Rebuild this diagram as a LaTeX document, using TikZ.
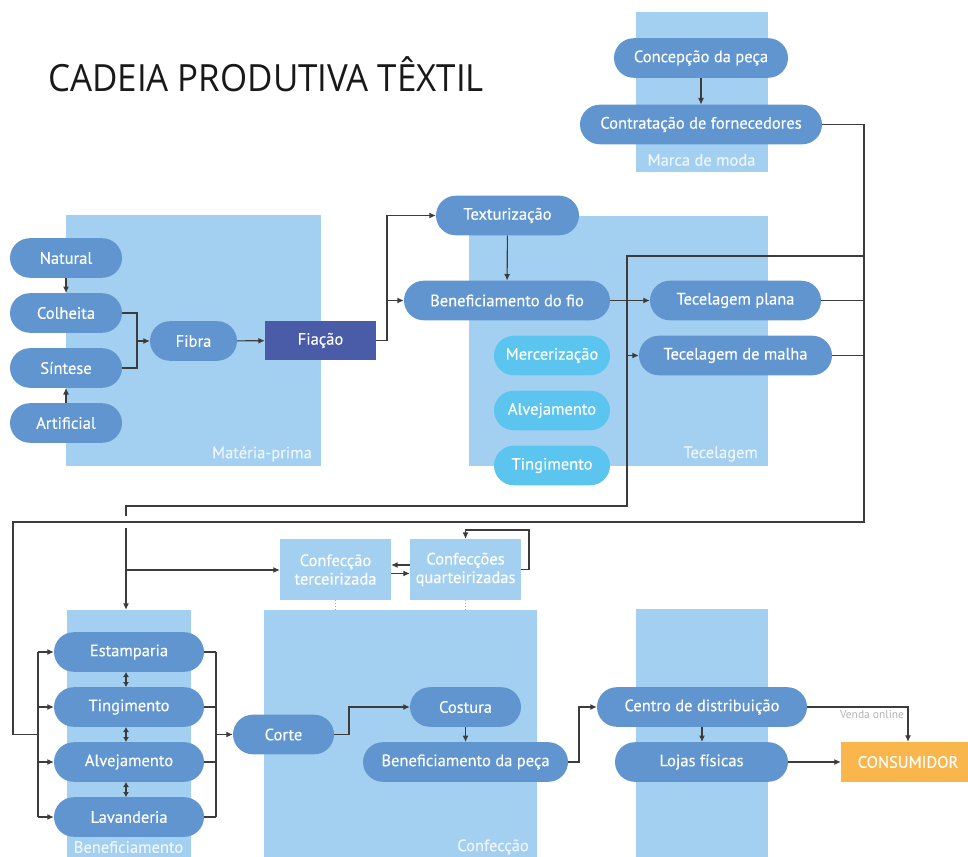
\documentclass[tikz,border=0pt]{standalone}
\usepackage{fontspec}
\setmainfont{PT Sans}
\newfontfamily\pillfont[FakeBold=0.3]{PT Sans}
\newfontfamily\titlefont[FakeStretch=0.93]{Open Sans}
\usetikzlibrary{arrows.meta,calc}
\definecolor{bgblue}{HTML}{A3D0F0}
\definecolor{pillblue}{HTML}{6195CF}
\definecolor{cyanpill}{HTML}{5BC5F0}
\definecolor{darkblue}{HTML}{4A5BA8}
\definecolor{orangec}{HTML}{F9B64D}
\definecolor{linec}{HTML}{3C3C3C}
\definecolor{labc}{HTML}{EEF6FD}
\tikzset{
  bgbox/.style={fill=bgblue, draw=none, inner sep=0pt},
  pill/.style={fill=pillblue, draw=none, rounded corners=19.8pt, text=white, minimum height=39.6pt, inner sep=0pt, font=\pillfont\fontsize{16.5}{18}\selectfont},
  cpill/.style={pill, fill=cyanpill},
  rectbox/.style={fill=darkblue, draw=none, text=white, minimum height=39pt, inner sep=0pt, font=\pillfont\fontsize{16.5}{18}\selectfont},
  subbox/.style={fill=bgblue, draw=none, text=white, minimum width=111pt, minimum height=61pt, inner sep=0pt, align=center, font=\pillfont\fontsize{16.5}{18.5}\selectfont},
  boxlabel/.style={text=labc, inner sep=0pt, font=\pillfont\fontsize{16.5}{18}\selectfont},
  ln/.style={draw=linec, line width=1.1pt},
  arr/.style={ln, -{Latex[length=6.5pt,width=6pt]}},
  dbl/.style={ln, {Latex[length=5pt,width=6pt]}-{Latex[length=5pt,width=6pt]}},
  dotl/.style={draw=gray!70, line width=1pt, dotted},
}
\begin{document}
\begin{tikzpicture}[x=1pt,y=-1pt]
\useasboundingbox (0,0) rectangle (968,856);
% background regions
\node[bgbox, minimum width=132pt, minimum height=160pt] (marcabox) at (702,92) {};
\node[bgbox, minimum width=255pt, minimum height=251pt] (matbox) at (193.5,340.5) {};
\node[bgbox, minimum width=299pt, minimum height=250pt] (tecbox) at (618.5,341) {};
\node[bgbox, minimum width=124pt, minimum height=260pt] (benefbox) at (129,740) {};
\node[bgbox, minimum width=273pt, minimum height=260pt] (confbox) at (400.5,740) {};
\node[bgbox, minimum width=132pt, minimum height=261pt] (distbox) at (702,739.5) {};
% region labels
\node[boxlabel] (lmarca) at (701.5,160) {Marca de moda};
\node[boxlabel, anchor=east] (lmat) at (312,454) {Matéria-prima};
\node[boxlabel, anchor=east] (ltec) at (758,454) {Tecelagem};
\node[boxlabel] (lben) at (128.5,847) {Beneficiamento};
\node[boxlabel, anchor=east] (lconf) at (529,847) {Confecção};
% title
\node[anchor=base west, inner sep=0pt, font=\titlefont\fontsize{37.5}{40}\selectfont, text=black!90] (title) at (48,92) {CADEIA PRODUTIVA TÊXTIL};
% Marca de moda
\node[pill, minimum width=174pt] (concep) at (701,58) {Concepção da peça};
\node[pill, minimum width=242pt] (contrat) at (701,124.5) {Contratação de fornecedores};
% Materia-prima
\node[pill, minimum width=112pt] (natural) at (66,258) {Natural};
\node[pill, minimum width=112pt] (colheita) at (66,313) {Colheita};
\node[pill, minimum width=112pt] (sintese) at (66,368) {Síntese};
\node[pill, minimum width=112pt] (artificial) at (66,423) {Artificial};
\node[pill, minimum width=87pt] (fibra) at (193.5,341) {Fibra};
\node[rectbox, minimum width=111pt] (fiacao) at (320.5,340.5) {Fiação};
% Tecelagem
\node[pill, minimum width=143pt] (textur) at (507.5,215.5) {Texturização};
\node[pill, minimum width=206pt] (benfio) at (507,300.5) {Beneficiamento do fio};
\node[cpill, minimum width=116pt] (mercer) at (552,355.5) {Mercerização};
\node[cpill, minimum width=116pt] (alvejA) at (552,410.5) {Alvejamento};
\node[cpill, minimum width=116pt] (tingiA) at (552,465.5) {Tingimento};
\node[pill, minimum width=171pt] (tecplana) at (735.5,300.5) {Tecelagem plana};
\node[pill, minimum width=193pt] (tecmalha) at (735.5,355.5) {Tecelagem de malha};
% Beneficiamento
\node[pill, minimum width=150pt] (estamp) at (129,652) {Estamparia};
\node[pill, minimum width=150pt] (tingiB) at (129,707) {Tingimento};
\node[pill, minimum width=150pt] (alvejB) at (129,762) {Alvejamento};
\node[pill, minimum width=150pt] (lavand) at (129,817) {Lavanderia};
% Confeccao
\node[subbox] (terc) at (335.5,569.5) {Confecção\\terceirizada};
\node[subbox] (quart) at (465.5,569.5) {Confecções\\quarteirizadas};
\node[pill, minimum width=101pt] (corte) at (283.5,734.5) {Corte};
\node[pill, minimum width=111pt] (costura) at (465.5,707) {Costura};
\node[pill, minimum width=205pt] (benpeca) at (465.5,762) {Beneficiamento da peça};
% Distribuicao
\node[pill, minimum width=210pt] (centro) at (702,707) {Centro de distribuição};
\node[pill, minimum width=173pt] (lojas) at (701.5,762) {Lojas físicas};
\node[fill=orangec, text=white, minimum width=134pt, minimum height=40pt, inner sep=0pt, font=\pillfont\fontsize{16.5}{18}\selectfont] (consumidor) at (908,762) {CONSUMIDOR};
\node[text=gray!60, inner sep=0pt, font=\fontsize{11.5}{13}\selectfont] (venda) at (872,714) {Venda online};

% connectors: materia-prima
\draw[arr] (natural) -- (colheita);
\draw[arr] (artificial) -- (sintese);
\coordinate (j1) at (137,341);
\draw[ln] (colheita.east) -| (j1);
\draw[ln] (sintese.east) -| (j1);
\draw[arr] (j1) -- (fibra.west);
\draw[arr] (fibra) -- (fiacao);
\coordinate (j2) at (387,300.5);
\draw[ln] (fiacao.east) -| (j2);
\draw[arr] (j2) |- (textur.west);
\draw[arr] (j2) -- (benfio.west);
\draw[arr] (textur) -- (benfio);
\draw[arr] (benfio) -- (tecplana);
\draw[arr] (concep) -- (contrat);
% big loops
\coordinate (rA) at (864,522);
\coordinate (lA) at (13,522);
\coordinate (lB) at (13,734.5);
\coordinate (bx) at (38,734.5);
\draw[ln] (contrat.east) -| (rA) -- (lA) -- (lB) -- (bx);
\draw[ln] (tecplana.east) -- (tecplana.east -| rA);
\draw[ln] (tecmalha.east) -- (tecmalha.east -| rA);
\coordinate (tA) at (864,256);
\coordinate (tB) at (627,256);
\coordinate (tC) at (627,506);
\coordinate (tD) at (126,506);
\coordinate (tE) at (126,528);
\coordinate (tF) at (126,570);
\draw[ln] (tA) -- (tB) -- (tC) -- (tD) -- (126,516);
\draw[arr] (tecmalha.west -| tB) -- (tecmalha.west);
\draw[arr] (tE) -- (tE |- benefbox.north);
\draw[arr] (tF) -- (tF -| terc.west);
% beneficiamento
\draw[ln] (bx |- estamp) -- (bx |- lavand);
\foreach \n in {estamp,tingiB,alvejB,lavand}{
  \draw[arr] (bx |- \n) -- (\n.west);
}
\coordinate (rx) at (216,734.5);
\foreach \n in {estamp,tingiB,alvejB,lavand}{
  \draw[ln] (\n.east) -- (\n.east -| rx);
}
\draw[ln] (rx |- estamp) -- (rx |- lavand);
\draw[arr] (rx) -- (corte.west);
\draw[dbl] ([xshift=-3pt]estamp.south) -- ([xshift=-3pt]tingiB.north);
\draw[dbl] ([xshift=-3pt]tingiB.south) -- ([xshift=-3pt]alvejB.north);
\draw[dbl] ([xshift=-3pt]alvejB.south) -- ([xshift=-3pt]lavand.north);
% confeccao
\draw[arr] ([yshift=4.5pt]quart.west) -- ([yshift=4.5pt]terc.east);
\draw[arr] ([yshift=-4pt]terc.east) -- ([yshift=-4pt]quart.west);
\coordinate (q1) at (529,530);
\draw[arr] (quart.east) -| (q1) -| (quart.north);
\draw[dotl] (terc.south) -- (terc.south |- confbox.north);
\draw[dotl] (quart.south) -- (quart.south |- confbox.north);
\coordinate (c1) at (349,734.5);
\draw[arr] (corte.east) -- (c1) |- (costura.west);
\draw[arr] (costura.south) -- (costura.south |- benpeca.north);
\coordinate (c2) at (579,762);
\draw[arr] (benpeca.east) -- (c2) |- (centro.west);
% distribuicao
\draw[arr] (centro.south) -- (centro.south |- lojas.north);
\draw[arr] (lojas) -- (consumidor);
\draw[arr] (centro.east) -| (consumidor.north);
\end{tikzpicture}
\end{document}
